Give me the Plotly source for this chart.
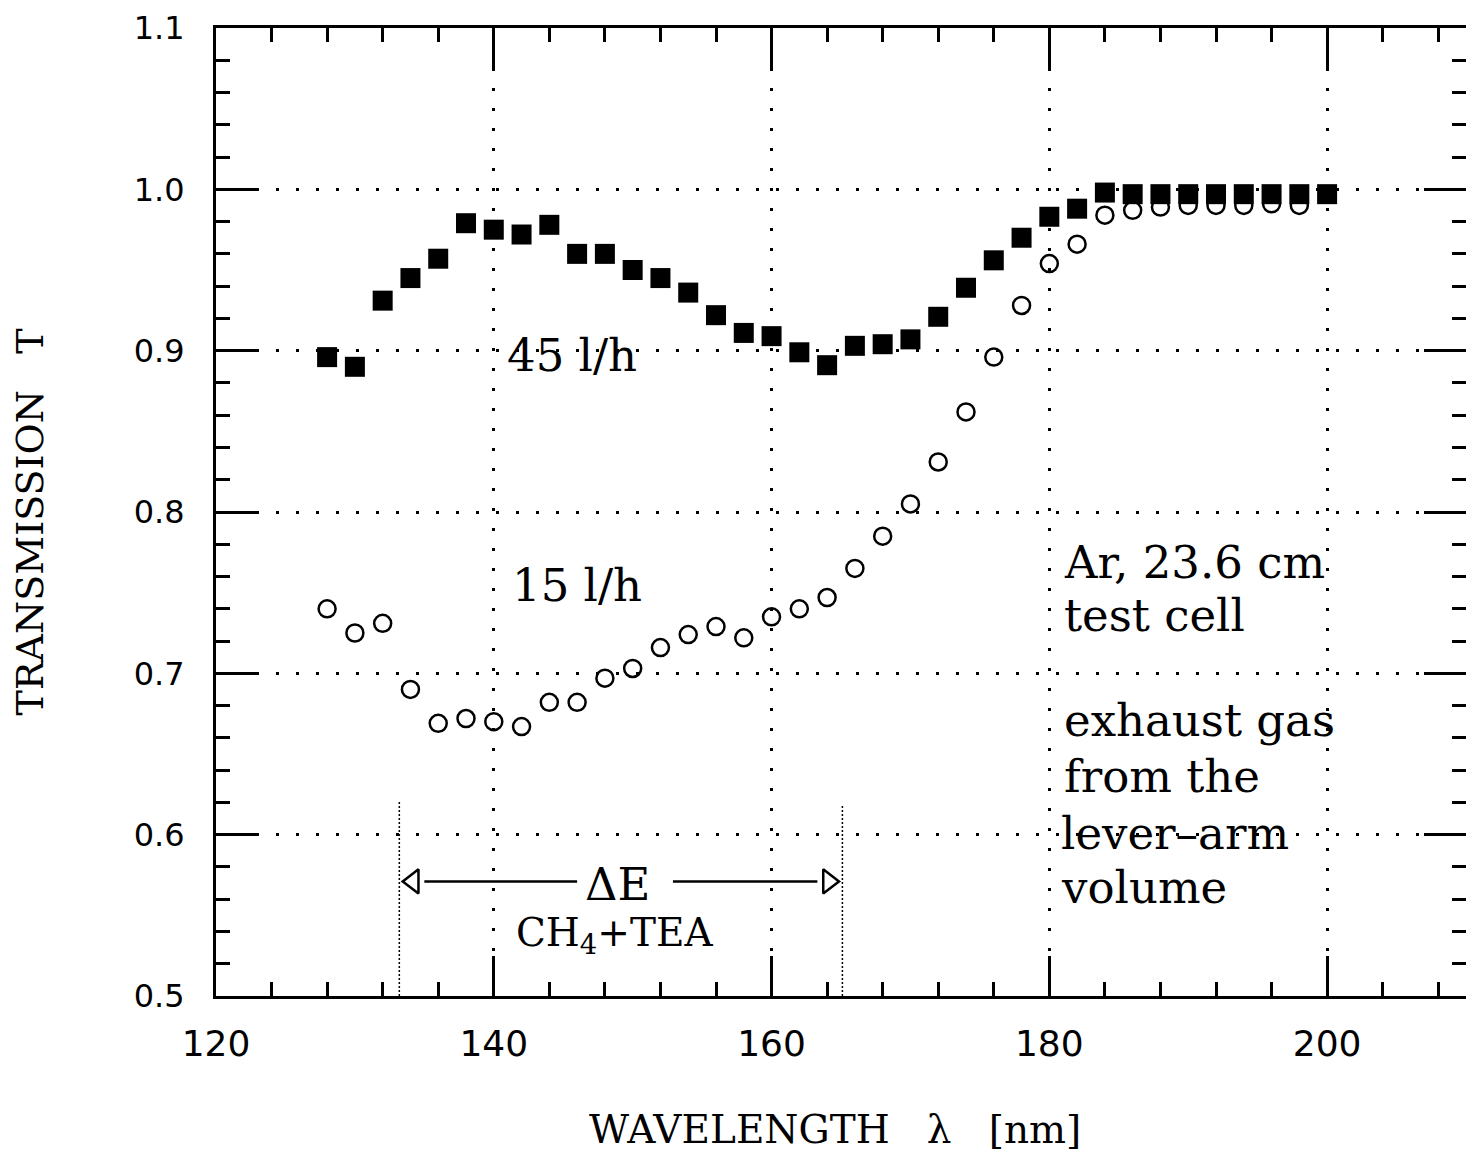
import plotly.graph_objects as go

# ---------------- data ----------------
wl_45 = [128, 130, 132, 134, 136, 138, 140, 142, 144, 146, 148, 150, 152, 154, 156,
         158, 160, 162, 164, 166, 168, 170, 172, 174, 176, 178, 180, 182, 184, 186,
         188, 190, 192, 194, 196, 198, 200]
T_45 = [0.896, 0.890, 0.931, 0.945, 0.957, 0.979, 0.975, 0.972, 0.978, 0.960, 0.960,
        0.950, 0.945, 0.936, 0.922, 0.911, 0.909, 0.899, 0.891, 0.903, 0.904, 0.907,
        0.921, 0.939, 0.956, 0.970, 0.983, 0.988, 0.998, 0.997, 0.997, 0.997, 0.997,
        0.997, 0.997, 0.997, 0.997]

wl_15 = [128, 130, 132, 134, 136, 138, 140, 142, 144, 146, 148, 150, 152, 154, 156,
         158, 160, 162, 164, 166, 168, 170, 172, 174, 176, 178, 180, 182, 184, 186,
         188, 190, 192, 194, 196, 198]
T_15 = [0.740, 0.725, 0.731, 0.690, 0.669, 0.672, 0.670, 0.667, 0.682, 0.682, 0.697,
        0.703, 0.716, 0.724, 0.729, 0.722, 0.735, 0.740, 0.747, 0.765, 0.785, 0.805,
        0.831, 0.862, 0.896, 0.928, 0.954, 0.966, 0.984, 0.987, 0.989, 0.990, 0.990,
        0.990, 0.991, 0.990]

x_ticks = [120, 140, 160, 180, 200]
y_ticks = [0.5, 0.6, 0.7, 0.8, 0.9, 1.0, 1.1]

dE_bounds = [133.2, 165.1]     # wavelength limits of the Delta-E band
dE_top = [0.621, 0.618]        # top of the vertical marker lines
arrow_T = 0.571
left_shaft = [135.0, 146.0]
right_shaft = [152.9, 163.3]

SERIF = "DejaVu Serif"
SANS = "DejaVu Sans"

fig = go.Figure()

# Delta-E vertical dotted lines
for xb, yt in zip(dE_bounds, dE_top):
    fig.add_trace(go.Scatter(x=[xb, xb], y=[0.5, yt], mode="lines",
                             line=dict(color="black", width=1.5, dash="2px,2px"),
                             showlegend=False, hoverinfo="skip"))

# arrow shafts
fig.add_trace(go.Scatter(x=left_shaft, y=[arrow_T, arrow_T], mode="lines",
                         line=dict(color="black", width=2.5), showlegend=False, hoverinfo="skip"))
fig.add_trace(go.Scatter(x=right_shaft, y=[arrow_T, arrow_T], mode="lines",
                         line=dict(color="black", width=2.5), showlegend=False, hoverinfo="skip"))
# arrow heads (open triangles, tips at the band limits)
fig.add_trace(go.Scatter(x=[dE_bounds[0] + 1.0], y=[arrow_T], mode="markers",
                         marker=dict(symbol="triangle-left-open", size=21, color="black",
                                     line=dict(color="black", width=2.5)),
                         showlegend=False, hoverinfo="skip"))
fig.add_trace(go.Scatter(x=[dE_bounds[1] - 1.0], y=[arrow_T], mode="markers",
                         marker=dict(symbol="triangle-right-open", size=21, color="black",
                                     line=dict(color="black", width=2.5)),
                         showlegend=False, hoverinfo="skip"))

# data series
fig.add_trace(go.Scatter(x=wl_15, y=T_15, mode="markers", name="15 l/h",
                         marker=dict(symbol="circle-open", size=17, color="black",
                                     line=dict(color="black", width=2.5))))
fig.add_trace(go.Scatter(x=wl_45, y=T_45, mode="markers", name="45 l/h",
                         marker=dict(symbol="square", size=20, color="black",
                                     line=dict(width=0))))

grid_common = dict(showgrid=True, gridcolor="black", gridwidth=3, griddash="3px,17px",
                   zeroline=False, showline=True, linecolor="black", linewidth=3,
                   mirror="ticks", ticks="inside", tickcolor="black", tickwidth=2.5)

fig.update_xaxes(range=[120, 210], tickvals=x_ticks, ticklen=40,
                 tickfont=dict(family=SANS, size=36, color="black"),
                 ticklabelstandoff=14,
                 minor=dict(dtick=4, tick0=120, ticks="inside", ticklen=14,
                            tickwidth=2.5, tickcolor="black", showgrid=False),
                 **grid_common)
fig.update_yaxes(range=[0.5, 1.1], tickvals=y_ticks, ticklen=42,
                 ticktext=[f"{v:.1f}" for v in y_ticks],
                 tickfont=dict(family=SANS, size=32, color="black"),
                 ticklabelstandoff=22,
                 minor=dict(dtick=0.02, tick0=0.5, ticks="inside", ticklen=14,
                            tickwidth=2.5, tickcolor="black", showgrid=False),
                 **grid_common)

ann_font = dict(family=SERIF, size=45, color="black")
annotations = [
    dict(x=140.8, y=0.897, text="45\u00a0l/h", xanchor="left"),
    dict(x=141.2, y=0.7547, text="15\u00a0l/h", xanchor="left"),
    dict(x=180.9, y=0.769, text="Ar, 23.6 cm", xanchor="left"),
    dict(x=180.9, y=0.736, text="test cell", xanchor="left"),
    dict(x=180.9, y=0.671, text="exhaust gas", xanchor="left"),
    dict(x=180.9, y=0.636, text="from the", xanchor="left"),
    dict(x=180.7, y=0.601, text="lever\u2013arm", xanchor="left"),
    dict(x=180.7, y=0.567, text="volume", xanchor="left"),
    dict(x=148.9, y=0.5693, text="\u0394E", xanchor="center"),
]
for a in annotations:
    fig.add_annotation(xref="x", yref="y", showarrow=False, yanchor="middle",
                       font=ann_font, **a)
fig.add_annotation(xref="x", yref="y", x=148.7, y=0.5377, text="CH<sub>4</sub>+TEA",
                   xanchor="center", yanchor="middle", showarrow=False,
                   font=dict(family=SERIF, size=39, color="black"))

# axis titles
fig.add_annotation(xref="paper", yref="paper", x=0.495, y=-0.138, showarrow=False,
                   text="WAVELENGTH\u00a0\u00a0\u00a0\u03bb\u00a0\u00a0\u00a0[nm]",
                   font=dict(family=SERIF, size=39, color="black"),
                   xanchor="center", yanchor="middle")
fig.add_annotation(xref="paper", yref="paper", x=-0.149, y=0.49, showarrow=False,
                   text="TRANSMISSION\u00a0\u00a0\u00a0T", textangle=-90,
                   font=dict(family=SERIF, size=38, color="black"),
                   xanchor="center", yanchor="middle")

fig.update_layout(width=1466, height=1156,
                  margin=dict(l=216, r=0, t=28, b=160, autoexpand=False),
                  paper_bgcolor="white", plot_bgcolor="white",
                  showlegend=False)

fig.write_html("out.html")
